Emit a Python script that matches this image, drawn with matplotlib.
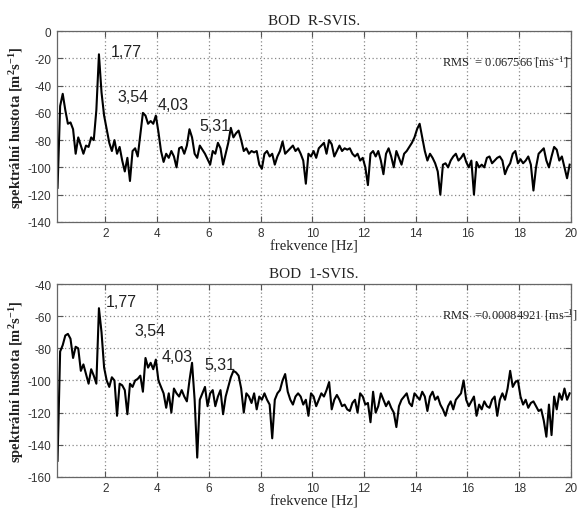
import numpy as np
import matplotlib
matplotlib.use("Agg")
import matplotlib.pyplot as plt

# ---------------- data ----------------
freq_start = 0.15
freq_step = 0.1

psd_r = [
    -115, -55, -46, -58, -68, -67, -72, -90, -78, -84,
    -90, -84, -85, -78, -80, -58, -17, -45, -62, -72,
    -82, -88, -80, -90, -85, -95, -103, -93, -110, -88,
    -86, -92, -76, -60, -62, -68, -66, -68, -62, -74,
    -88, -96, -90, -93, -88, -92, -100, -86, -85, -90,
    -84, -72, -78, -90, -93, -84, -87, -90, -94, -98,
    -88, -90, -82, -86, -98, -90, -82, -71, -78, -75,
    -73, -80, -88, -86, -90, -88, -89, -88, -98, -101,
    -90, -88, -92, -90, -98, -92, -88, -81, -90, -88,
    -86, -84, -88, -86, -90, -95, -112, -90, -92, -88,
    -93, -86, -84, -82, -90, -80, -83, -92, -88, -84,
    -88, -86, -87, -86, -90, -92, -90, -95, -93, -100,
    -113, -90, -88, -92, -88, -95, -105, -90, -86, -92,
    -100, -88, -93, -98, -90, -88, -85, -82, -78, -72,
    -68, -78, -88, -95, -90, -93, -97, -103, -120, -98,
    -97, -100, -95, -92, -90, -95, -93, -90, -96, -100,
    -95, -120, -96, -100, -98, -100, -93, -92, -97, -95,
    -93, -92, -95, -105, -100, -97, -90, -88, -97, -94,
    -97, -95, -92, -98, -117, -100, -90, -88, -86, -95,
    -100, -92, -85, -87, -95, -92, -100, -108, -98,
]

psd_1 = [
    -150, -82, -78, -72, -71, -74, -86, -79, -80, -94,
    -90, -96, -102, -93, -97, -102, -55, -70, -92, -100,
    -104, -98, -100, -122, -102, -103, -106, -121, -102, -104,
    -100, -99, -97, -107, -86, -92, -89, -93, -87, -100,
    -104, -108, -117, -108, -120, -105, -108, -110, -106, -110,
    -113, -100, -89, -112, -148, -112, -108, -104, -116, -108,
    -106, -116, -110, -106, -121, -110, -104, -98, -94, -95,
    -97, -105, -120, -108, -110, -114, -108, -118, -110, -112,
    -108, -112, -115, -136, -112, -108, -106, -100, -96, -107,
    -112, -115, -110, -108, -110, -115, -112, -122, -108, -110,
    -116, -112, -108, -110, -106, -101, -118, -112, -109, -112,
    -116, -115, -118, -119, -114, -112, -120, -108, -110, -115,
    -114, -126, -107, -120, -116, -108, -112, -116, -113, -117,
    -120, -129, -116, -112, -110, -108, -114, -116, -108, -110,
    -112, -107, -110, -119, -110, -107, -112, -110, -115, -118,
    -122, -116, -113, -118, -112, -110, -108, -100, -112, -116,
    -113, -110, -122, -115, -118, -113, -116, -117, -112, -110,
    -122, -112, -108, -112, -105, -94, -104, -101, -100, -110,
    -115, -112, -117, -114, -113, -116, -119, -118, -125, -135,
    -115, -134, -110, -118, -108, -112, -105, -112, -108,
]

titles = ["BOD  R-SVIS.", "BOD  1-SVIS."]
rms_texts = [r"RMS  = 0.067566 [ms$^{\mathregular{-1}}$]",
             r"RMS  =0.00084921 [ms$^{\mathregular{-1}}$]"]
peak_labels = ["1,77", "3,54", "4,03", "5,31"]
peak_pos_r = [(2.2, -15), (2.46, -48), (4.0, -54), (5.63, -69)]
peak_pos_1 = [(2.0, -51), (3.12, -69), (4.16, -85), (5.82, -90)]
rms_y = [-22, -59]
ylims = [(-140, 0), (-160, -40)]
xticks = [2, 4, 6, 8, 10, 12, 14, 16, 18, 20]

# ---------------- plotting ----------------
plt.rcParams['mathtext.fontset'] = 'custom'
plt.rcParams['mathtext.rm'] = 'Liberation Serif'
plt.rcParams['mathtext.it'] = 'Liberation Serif'
plt.rcParams['axes.unicode_minus'] = False

fig = plt.figure(figsize=(5.82, 5.10), dpi=100)
ax1 = fig.add_axes([0.098, 0.563, 0.883, 0.374])
ax2 = fig.add_axes([0.098, 0.063, 0.883, 0.378])

serif = 'Liberation Serif'
sans = 'Liberation Sans'

for ax, psd, title, rms, ppos, ylim, ry in [
        (ax1, psd_r, titles[0], rms_texts[0], peak_pos_r, ylims[0], rms_y[0]),
        (ax2, psd_1, titles[1], rms_texts[1], peak_pos_1, ylims[1], rms_y[1])]:
    f = freq_start + freq_step * np.arange(len(psd))
    ax.plot(f, psd, color='black', lw=1.5)
    ax.set_xlim(0.13, 20)
    ax.set_ylim(*ylim)
    ax.set_xticks(xticks)
    ax.set_yticks(np.arange(ylim[0], ylim[1] + 1, 20))
    ax.grid(True, color='#888888', linestyle=(0, (1, 2)), linewidth=0.9)
    ax.tick_params(direction='in', top=True, right=True, length=4,
                   labelsize=8.5, color='#555555', pad=4)
    for lab in ax.get_xticklabels() + ax.get_yticklabels():
        lab.set_fontfamily(sans)
        lab.set_color('#333333')
    for s in ax.spines.values():
        s.set_color('#666666')
        s.set_linewidth(0.9)
    ax.set_title(title, family=serif, fontsize=11, pad=5, color='#222222')
    ax.set_xlabel('frekvence [Hz]', family=serif, fontsize=10.5,
                  labelpad=0, color='#222222')
    ax.set_ylabel(r'spektrální hustota [m$^{\mathregular{2}}$s$^{\mathregular{-1}}$]',
                  family=serif, fontsize=10.5, color='#222222',
                  fontweight='bold')
    ax.yaxis.set_label_coords(-0.060, 0.5)
    for lab, (x, y) in zip(peak_labels, ppos):
        ax.text(x, y, lab, family=sans, fontsize=11.5, ha='left',
                va='center', color='#222222')
    ax.text(15.0, ry, rms, family=serif,
            fontsize=9, ha='left', va='center', color='#222222',
            clip_on=False)

fig.savefig('out.png', dpi=100)
